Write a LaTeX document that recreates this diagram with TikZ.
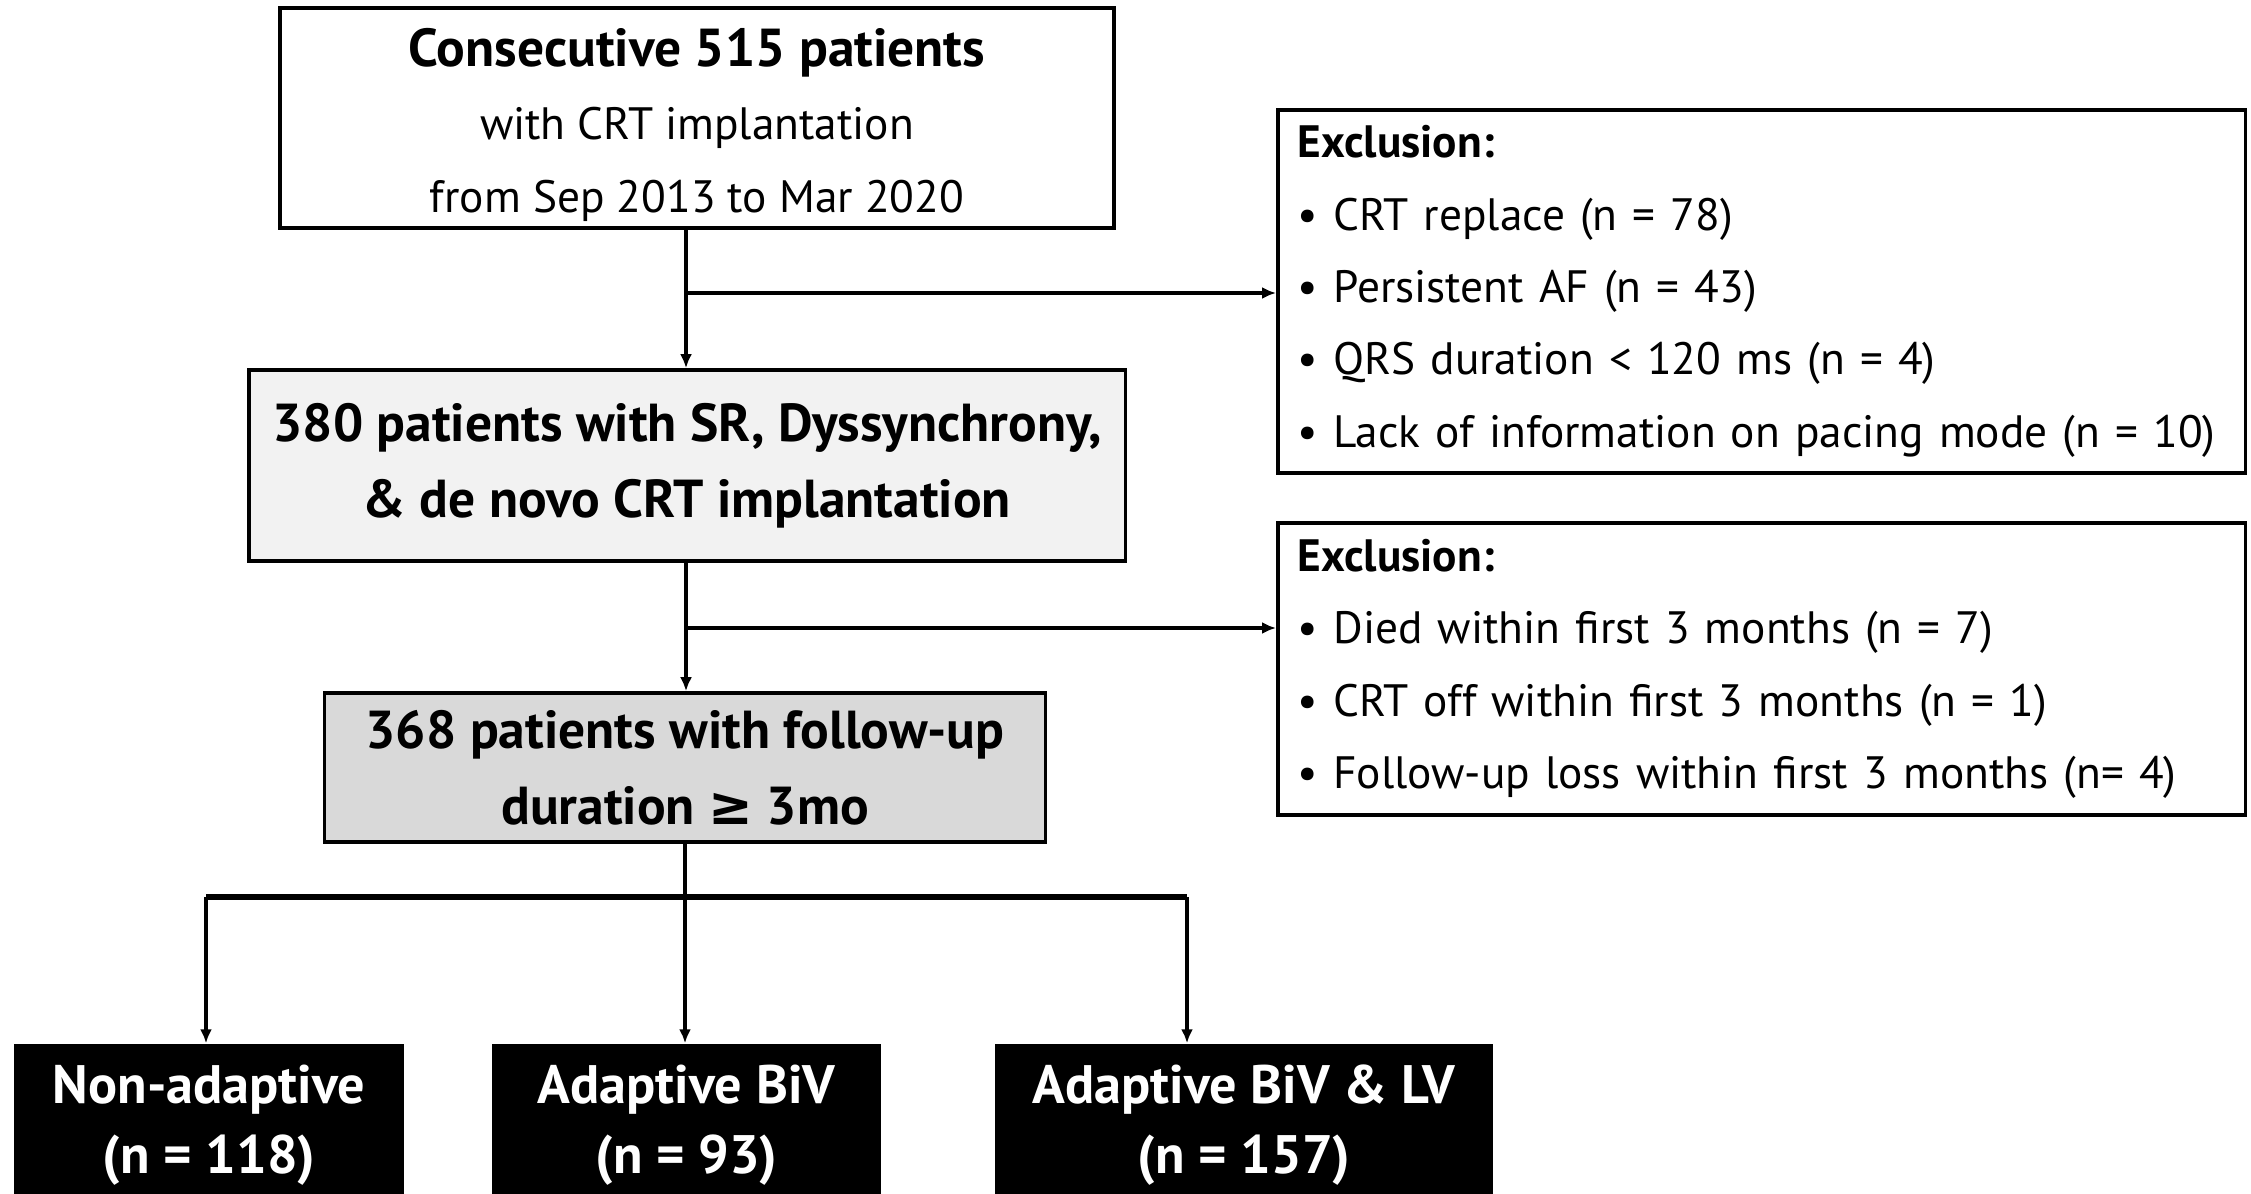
\documentclass[tikz,border=0pt]{standalone}
\usepackage{fontspec}
\setmainfont{PT Sans}
\newfontfamily\symfont{DejaVu Sans}
\usetikzlibrary{arrows.meta}
\begin{document}
\begin{tikzpicture}[x=.01cm,y=-.01cm,>={Latex[length=1.4mm,width=1.2mm]},
  box/.style={draw,line width=1pt,align=center,inner sep=0pt,font=\bfseries\fontsize{15.2}{21.5}\selectfont},
  exbox/.style={draw,line width=1pt,anchor=north west,align=left,inner xsep=.2cm,inner ysep=0pt,
    text width=9.27cm,font=\fontsize{12.9}{20.6}\selectfont},
  grp/.style={fill=black,text=white,align=center,inner sep=0pt,minimum height=1.62cm,
    font=\bfseries\fontsize{15.4}{20}\selectfont},
  link/.style={line width=.9pt}]
  \useasboundingbox (0,0) rectangle (2251,1194);
  \node[box,font=\fontsize{12.9}{20.8}\selectfont,minimum width=8.34cm,minimum height=2.2cm] (start) at (697,118)
    {\rule{0pt}{15pt}{\bfseries\fontsize{15.2}{20.8}\selectfont Consecutive 515 patients}\\with CRT implantation\\from Sep 2013 to Mar 2020};
  \node[box,fill=black!5,minimum width=8.76cm,minimum height=1.91cm] (sr) at (687,465.5)
    {380 patients with SR, Dyssynchrony,\\\& de novo CRT implantation};
  \node[box,fill=black!15,minimum width=7.21cm,minimum height=1.49cm] (fu) at (685,767.5)
    {368 patients with follow-up\\duration {\symfont ≥} 3mo};
  \node[exbox,minimum height=3.63cm] (ex1) at (1276,108)
    {\textbf{Exclusion:}\\
     \textbullet{} CRT replace (n = 78)\\
     \textbullet{} Persistent AF (n = 43)\\
     \textbullet{} QRS duration < 120 ms (n = 4)\\
     \textbullet{} Lack of information on pacing mode (n = 10)};
  \node[exbox,minimum height=2.92cm] (ex2) at (1276,521)
    {\textbf{Exclusion:}\\
     \textbullet{} Died within first 3 months (n = 7)\\
     \textbullet{} CRT off within first 3 months (n = 1)\\
     \textbullet{} Follow-up loss within first 3 months (n= 4)};
  \node[grp,minimum width=3.9cm] (grpA) at (209,1125) {Non-adaptive\\(n = 118)};
  \node[grp,minimum width=3.89cm] (grpB) at (686.5,1125) {Adaptive BiV\\(n = 93)};
  \node[grp,minimum width=4.98cm] (grpC) at (1244,1125) {Adaptive BiV \& LV\\(n = 157)};
  \coordinate (cut1) at (686,293);
  \coordinate (cut2) at (686,628);
  \coordinate (fan) at (685,897);
  \coordinate (fanL) at (206,897);
  \coordinate (fanR) at (1187,897);
  \draw[link,->] (start.south -| cut1) -- (sr.north -| cut1);
  \draw[link,->] (cut1) -- (cut1 -| ex1.west);
  \draw[link,->] (sr.south -| cut2) -- (fu.north -| cut2);
  \draw[link,->] (cut2) -- (cut2 -| ex2.west);
  \draw[link] (fu.south -| fan) -- (fan);
  \draw[line width=1.5pt] (fanL) -- (fanR);
  \draw[link,->] (fanL) -- (fanL |- grpA.north);
  \draw[link,->] (fan) -- (fan |- grpB.north);
  \draw[link,->] (fanR) -- (fanR |- grpC.north);
\end{tikzpicture}
\end{document}
